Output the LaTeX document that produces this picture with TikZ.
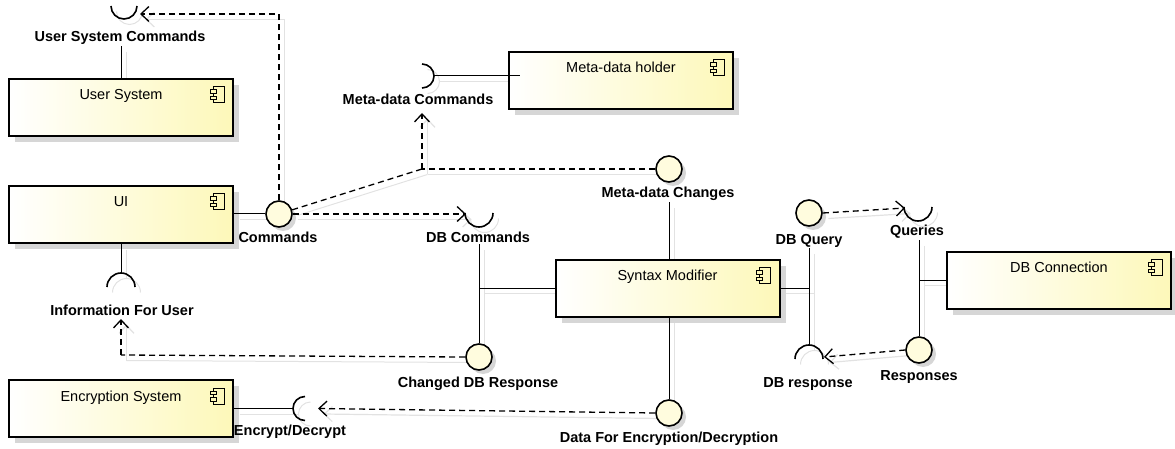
\documentclass[tikz,border=0pt]{standalone}
\usepackage{fontspec}
\setmainfont{Liberation Sans}
\usetikzlibrary{arrows.meta,shadows,backgrounds}

\definecolor{paleyellow}{RGB}{253,248,185}
\definecolor{ifacefill}{RGB}{255,252,222}
\definecolor{boxshade}{RGB}{214,214,214}
\definecolor{wireshade}{RGB}{226,226,226}

\tikzset{
  comp/.style={draw, line width=2pt, left color=white, right color=paleyellow,
    minimum width=224pt, minimum height=57pt, inner sep=0pt,
    general shadow={fill=boxshade, draw=none, shadow xshift=6pt, shadow yshift=-6pt}},
  ctitle/.style={font=\fontsize{14.5}{17}\selectfont, inner sep=0pt, anchor=base},
  iface/.style={circle, draw, line width=1.6pt, fill=ifacefill, minimum size=26pt,
    inner sep=0pt,
    general shadow={fill=boxshade, draw=none, shadow xshift=4pt, shadow yshift=-4pt}},
  lbl/.style={font=\bfseries\fontsize{14.5}{17}\selectfont, inner sep=1pt, anchor=base},
  tip/.style={-{Straight Barb[length=8pt,width=15pt]}},
  wire/.style={line width=1pt},
  dep/.style={line width=1.3pt, dash pattern=on 6pt off 4pt, tip},
  depline/.style={line width=1.3pt, dash pattern=on 6pt off 4pt},
  sock/.style={line width=1.6pt},
  wireshadow/.style={line width=1pt, draw=wireshade},
  depshadow/.style={line width=1.2pt, draw=wireshade, tip},
  compicon/.pic={
    \draw[line width=1pt] (-5,-8) rectangle (6,8);
    \draw[line width=1pt, fill=paleyellow] (-8,-5) rectangle (-2,-1.5);
    \draw[line width=1pt, fill=paleyellow] (-8,1.5) rectangle (-2,5);
  },
}

% component box with its title and the component glyph
\newcommand\component[3]{%
  \node[comp] (#1) at #2 {};
  \node[ctitle] (#1-t) at ([yshift=-22pt]#1.north) {#3};
  \pic at ([xshift=-16pt,yshift=-17pt]#1.north east) {compicon};
}

% every connector and socket; drawn twice (shadow pass and ink pass)
% #1 solid wire, #2 dependency with arrow, #3 dependency without arrow, #4 socket
\newcommand\wiring[4]{%
  % sockets (required interfaces)
  \draw[#4] ([shift={(0:13)}]usc) arc[start angle=0, end angle=180, radius=13];
  \draw[#4] ([shift={(180:14)}]infos) arc[start angle=180, end angle=360, radius=14];
  \draw[#4] ([shift={(0:14)}]dbcs) arc[start angle=0, end angle=180, radius=14];
  \draw[#4] ([shift={(-90:12)}]mdcs) arc[start angle=-90, end angle=90, radius=12];
  \draw[#4] ([shift={(90:12)}]encs) arc[start angle=90, end angle=270, radius=12];
  \draw[#4] ([shift={(0:14)}]qs) arc[start angle=0, end angle=180, radius=14];
  \draw[#4] ([shift={(180:14)}]dbrs) arc[start angle=180, end angle=360, radius=14];
  % assembly wires
  \draw[#1] (usys.north |- usct.south) -- (usys.north);
  \draw[#1] (cmd.west -| ui.east) -- (cmd.west);
  \draw[#1] (ui.south) -- ([yshift=14pt]infos);
  \draw[#1] ([xshift=12pt]mdcs) -- ([xshift=12pt]mdcs -| meta.west);
  \draw[#1] (chg.north |- dbct.south) -- (chg.north);
  \draw[#1] (syn.west -| chg.north) -- (syn.west);
  \draw[#1] (mdch |- mdcht.south) -- (mdch |- syn.north);
  \draw[#1] (data |- syn.south) -- (data.north);
  \draw[#1] (enc.east) -- ([xshift=-12pt]encs);
  \draw[#1] (syn.east) -- (syn.east -| dbq);
  \draw[#1] (dbq |- dbqt.south) -- ([yshift=14pt]dbrs);
  \draw[#1] (resp |- qt.south) -- (resp.north);
  \draw[#1] (dbc.west -| resp) -- (dbc.west);
  % dependencies
  \draw[#2] (cmd.north) -- (cmd.north |- usctip) -- (usctip);
  \draw[#2] (cmd.east) -- (dbctip);
  \draw[#3] (cmd) -- (mdj);
  \draw[#3] (mdch.west) -- (mdj);
  \draw[#2] (mdj) -- (mdctip);
  \draw[#3] (chg.west) -- (infocorner);
  \draw[#2] (infocorner) -- (infotip);
  \draw[#2] (data.west) -- (enctip);
  \draw[#2] (dbq.east) -- (qtip);
  \draw[#2] (resp.west) -- (dbrtip);
}

\begin{document}
\begin{tikzpicture}[x=1pt, y=-1pt]
\useasboundingbox (0,0) rectangle (1175,449);

% components
\component{usys}{(121,107.5)}{User System}
\component{ui}{(121,214.5)}{UI}
\component{enc}{(121,408.5)}{Encryption System}
\component{meta}{(621,80.5)}{Meta-data holder}
\component{syn}{(667.5,288)}{Syntax Modifier}
\component{dbc}{(1059,280)}{DB Connection}

% provided interfaces
\node[iface] (cmd)  at (279,214) {};
\node[iface] (mdch) at (669,169) {};
\node[iface] (chg)  at (479,357) {};
\node[iface] (data) at (669,413) {};
\node[iface] (dbq)  at (809,213) {};
\node[iface] (resp) at (919,350) {};

% socket centres
\coordinate (usc)   at (124,6);
\coordinate (infos) at (121,287);
\coordinate (dbcs)  at (479,213);
\coordinate (mdcs)  at (422,76);
\coordinate (encs)  at (305,408.5);
\coordinate (qs)    at (918,207);
\coordinate (dbrs)  at (809,359);

% dependency ends and bends
\coordinate (usctip)     at (140,14);
\coordinate (dbctip)     at (466,214);
\coordinate (mdj)        at (422,169);
\coordinate (mdctip)     at (422,113);
\coordinate (infocorner) at (121,355);
\coordinate (infotip)    at (121,319);
\coordinate (enctip)     at (318,408.5);
\coordinate (qtip)       at (905,208);
\coordinate (dbrtip)     at (824,357);

% interface names
\node[lbl] (usct)  at (120,42)  {User System Commands};
\node[lbl] (cmdt)  at (278,242) {Commands};
\node[lbl] (infot) at (122,315) {Information For User};
\node[lbl] (dbct)  at (478,243) {DB Commands};
\node[lbl] (chgt)  at (478,387) {Changed DB Response};
\node[lbl] (mdct)  at (418,105) {Meta-data Commands};
\node[lbl] (mdcht) at (668,198) {Meta-data Changes};
\node[lbl] (datat) at (669,442) {Data For Encryption/Decryption};
\node[lbl] (enct)  at (290,435) {Encrypt/Decrypt};
\node[lbl] (dbqt)  at (809,244) {DB Query};
\node[lbl] (qt)    at (917,236) {Queries};
\node[lbl] (respt) at (919,380) {Responses};
\node[lbl] (dbrt)  at (808,387) {DB response};

% shadow pass
\begin{scope}[on background layer]
  \begin{scope}[transform canvas={shift={(5.5pt,-5.5pt)}}]
    \wiring{wireshadow}{depshadow}{wireshadow}{wireshadow}
  \end{scope}
\end{scope}

% ink pass
\wiring{wire}{dep}{depline}{sock}
\end{tikzpicture}
\end{document}
